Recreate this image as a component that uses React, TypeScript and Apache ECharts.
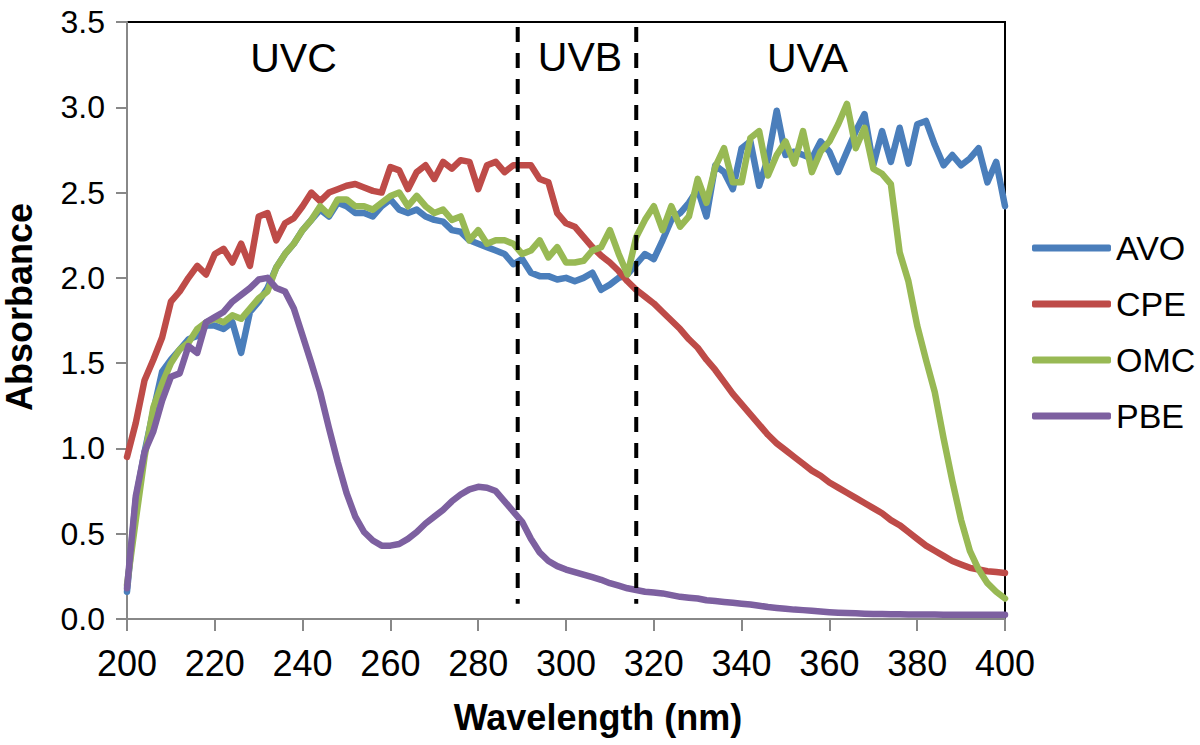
import React, { useEffect, useRef } from "react";
import * as echarts from "echarts";

const WAVELENGTH = [
  200, 202, 204, 206, 208, 210, 212, 214, 216, 218, 220, 222, 224, 226, 228, 230, 232, 234, 236, 238,
  240, 242, 244, 246, 248, 250, 252, 254, 256, 258, 260, 262, 264, 266, 268, 270, 272, 274, 276, 278,
  280, 282, 284, 286, 288, 290, 292, 294, 296, 298, 300, 302, 304, 306, 308, 310, 312, 314, 316, 318,
  320, 322, 324, 326, 328, 330, 332, 334, 336, 338, 340, 342, 344, 346, 348, 350, 352, 354, 356, 358,
  360, 362, 364, 366, 368, 370, 372, 374, 376, 378, 380, 382, 384, 386, 388, 390, 392, 394, 396, 398,
  400,
];

const AVO = [
  0.16, 0.7, 0.98, 1.22, 1.45, 1.52, 1.58, 1.64, 1.66, 1.72, 1.72, 1.7, 1.74, 1.56, 1.8, 1.86, 1.94, 2.06, 2.14, 2.2,
  2.28, 2.34, 2.4, 2.36, 2.44, 2.42, 2.38, 2.38, 2.36, 2.42, 2.46, 2.4, 2.38, 2.4, 2.36, 2.34, 2.33, 2.28, 2.27, 2.22,
  2.2, 2.18, 2.16, 2.14, 2.08, 2.11, 2.03, 2.01, 2.01, 1.99, 2.0, 1.98, 2.0, 2.03, 1.93, 1.96, 2.0, 2.02, 2.08, 2.14,
  2.11, 2.22, 2.34, 2.38, 2.44, 2.52, 2.36, 2.66, 2.62, 2.52, 2.76, 2.8, 2.54, 2.7, 2.98, 2.72, 2.74, 2.72, 2.7, 2.8,
  2.74, 2.62, 2.74, 2.86, 2.96, 2.66, 2.86, 2.68, 2.88, 2.67, 2.9, 2.92, 2.78, 2.66, 2.72, 2.66, 2.7, 2.76, 2.56, 2.68,
  2.42,
];

const CPE = [
  0.95, 1.15, 1.4, 1.52, 1.65, 1.86, 1.92, 2.0, 2.07, 2.02, 2.14, 2.17, 2.09, 2.2, 2.07, 2.36, 2.38, 2.22, 2.32, 2.35,
  2.42, 2.5, 2.45, 2.5, 2.52, 2.54, 2.55, 2.53, 2.51, 2.5, 2.65, 2.63, 2.52, 2.62, 2.66, 2.58, 2.68, 2.64, 2.69, 2.68,
  2.52, 2.66, 2.68, 2.62, 2.66, 2.66, 2.66, 2.58, 2.56, 2.38, 2.32, 2.3, 2.24, 2.18, 2.13, 2.09, 2.04, 1.98, 1.93, 1.89,
  1.85, 1.8, 1.75, 1.7, 1.64, 1.59, 1.52, 1.46, 1.39, 1.32, 1.26, 1.2, 1.14, 1.08, 1.03, 0.99, 0.95, 0.91, 0.87, 0.84,
  0.8, 0.77, 0.74, 0.71, 0.68, 0.65, 0.62, 0.58, 0.55, 0.51, 0.47, 0.43, 0.4, 0.37, 0.34, 0.32, 0.3, 0.29, 0.28, 0.275,
  0.27,
];

const OMC = [
  0.2, 0.58, 0.95, 1.24, 1.38, 1.5, 1.58, 1.62, 1.7, 1.74, 1.76, 1.74, 1.78, 1.76, 1.82, 1.88, 1.92, 2.06, 2.14, 2.2,
  2.28, 2.34, 2.42, 2.37, 2.46, 2.46, 2.42, 2.42, 2.4, 2.44, 2.48, 2.5, 2.42, 2.48, 2.42, 2.38, 2.4, 2.34, 2.36, 2.22,
  2.28, 2.2, 2.22, 2.22, 2.2, 2.14, 2.16, 2.22, 2.12, 2.18, 2.09, 2.09, 2.1, 2.16, 2.18, 2.28, 2.14, 2.02, 2.24, 2.34,
  2.42, 2.28, 2.42, 2.3, 2.36, 2.58, 2.44, 2.65, 2.76, 2.56, 2.56, 2.82, 2.86, 2.6, 2.72, 2.8, 2.67, 2.86, 2.62, 2.74,
  2.8, 2.9, 3.02, 2.76, 2.88, 2.64, 2.61, 2.55, 2.15, 1.98, 1.72, 1.52, 1.33, 1.06, 0.81, 0.58, 0.4, 0.29, 0.21, 0.16,
  0.12,
];

const PBE = [
  0.18, 0.72, 0.98, 1.1, 1.28, 1.42, 1.44, 1.6, 1.56, 1.74, 1.77, 1.8, 1.86, 1.9, 1.94, 1.99, 2.0, 1.94, 1.92, 1.82,
  1.66, 1.5, 1.33, 1.12, 0.92, 0.74, 0.6, 0.51, 0.46, 0.43, 0.43, 0.44, 0.47, 0.51, 0.56, 0.6, 0.64, 0.69, 0.73, 0.76,
  0.775, 0.77, 0.75, 0.69, 0.63, 0.57, 0.47, 0.39, 0.34, 0.31, 0.29, 0.275, 0.26, 0.245, 0.23, 0.21, 0.195, 0.18, 0.17, 0.16,
  0.155, 0.15, 0.14, 0.13, 0.125, 0.12, 0.11, 0.105, 0.1, 0.095, 0.09, 0.085, 0.078, 0.07, 0.065, 0.06, 0.055, 0.052, 0.048, 0.044,
  0.04, 0.037, 0.035, 0.033, 0.031, 0.03, 0.029, 0.028, 0.028, 0.027, 0.027, 0.026, 0.026, 0.025, 0.025, 0.025, 0.025, 0.025, 0.025, 0.025,
  0.025,
];

const SERIES_NAMES = ["AVO", "CPE", "OMC", "PBE"];
const SERIES_VALUES = [AVO, CPE, OMC, PBE];
const SERIES_COLORS = ["#4A7EBB", "#BE4B48", "#98B954", "#7D60A0"];

const BAND_EDGES = [289, 316];
const BAND_NAMES = ["UVC", "UVB", "UVA"];

const FONT = "'Liberation Sans', Arial, Helvetica, sans-serif";

export default function App() {
  const ref = useRef<HTMLDivElement>(null);

  useEffect(() => {
    if (!ref.current) return;
    const chart = echarts.init(ref.current, undefined, { renderer: "svg" });

    const lineSeries = SERIES_NAMES.map((name, i) => ({
      name,
      type: "line",
      data: WAVELENGTH.map((w, j) => [w, SERIES_VALUES[i][j]]),
      symbol: "none",
      color: SERIES_COLORS[i],
      lineStyle: { width: 6.5, color: SERIES_COLORS[i], join: "round", cap: "round" },
      z: 2 + i,
      silent: true,
    }));

    const edgeSeries = BAND_EDGES.map((edge) => ({
      type: "line",
      data: [
        [edge, 3.47],
        [edge, 0.09],
      ],
      symbol: "none",
      lineStyle: { width: 4, color: "#000", type: [15, 11] },
      z: 10,
      silent: true,
    }));

    const bandPos = [
      [293.5, 58],
      [580, 57],
      [807.5, 58],
    ];

    chart.setOption({
      animation: false,
      backgroundColor: "#fff",
      textStyle: { fontFamily: FONT },
      grid: {
        left: 127,
        right: 195,
        top: 22,
        bottom: 126,
        show: true,
        borderColor: "#000",
        borderWidth: 2,
        backgroundColor: "transparent",
        containLabel: false,
        outerBoundsMode: "none",
      },
      legend: {
        orient: "vertical",
        left: 1027,
        top: 226,
        itemWidth: 79,
        itemHeight: 7,
        itemGap: 22,
        icon: "roundRect",
        data: SERIES_NAMES,
        textStyle: { fontSize: 34, color: "#000", fontFamily: FONT },
      },
      xAxis: {
        type: "value",
        min: 200,
        max: 400,
        interval: 20,
        axisLine: { show: true, onZero: false, lineStyle: { color: "#888", width: 2 } },
        axisTick: { show: true, inside: false, length: 12, lineStyle: { color: "#888", width: 2 } },
        axisLabel: { fontSize: 36, color: "#000", margin: 26, fontFamily: FONT },
        splitLine: { show: false },
        name: "Wavelength (nm)",
        nameLocation: "middle",
        nameGap: 80,
        nameTextStyle: {
          fontSize: 36,
          fontWeight: "bold",
          color: "#000",
          fontFamily: FONT,
          padding: [0, 0, 0, 64],
        },
      },
      yAxis: {
        type: "value",
        min: 0,
        max: 3.5,
        interval: 0.5,
        axisLine: { show: true, lineStyle: { color: "#888", width: 2 } },
        axisTick: { show: true, inside: false, length: 11, lineStyle: { color: "#888", width: 2 } },
        axisLabel: {
          fontSize: 32,
          color: "#000",
          margin: 22,
          fontFamily: FONT,
          formatter: (v: number) => v.toFixed(1),
        },
        splitLine: { show: false },
        name: "Absorbance",
        nameLocation: "middle",
        nameRotate: 90,
        nameGap: 90,
        nameTextStyle: {
          fontSize: 36,
          fontWeight: "bold",
          color: "#000",
          fontFamily: FONT,
          padding: [0, 0, 0, 27],
        },
      },
      graphic: BAND_NAMES.map((t, i) => ({
        type: "text",
        x: bandPos[i][0],
        y: bandPos[i][1],
        silent: true,
        style: {
          text: t,
          fontSize: 41,
          fontFamily: FONT,
          fill: "#000",
          align: "center",
          verticalAlign: "middle",
        },
      })),
      series: [...lineSeries, ...edgeSeries],
    });

    return () => chart.dispose();
  }, []);

  return (
    <div
      ref={ref}
      style={{ position: "absolute", left: 0, top: 0, width: 1200, height: 745 }}
    />
  );
}
